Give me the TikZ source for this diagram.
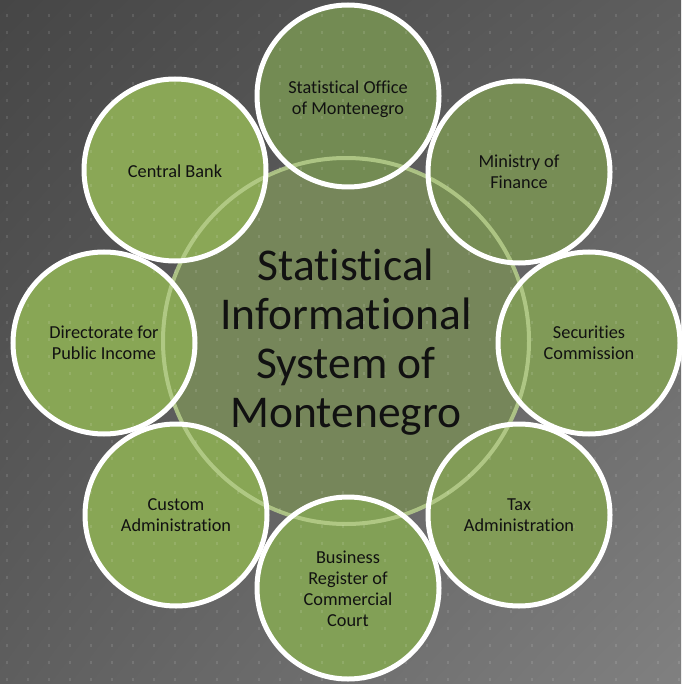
\documentclass[tikz,border=0pt]{standalone}
\usepackage{fontspec}
\setmainfont[Ligatures=NoCommon]{Carlito}
\usetikzlibrary{shadings}
\definecolor{bgA}{HTML}{464646}
\definecolor{bgB}{HTML}{5E5E5E}
\definecolor{bgC}{HTML}{5E5E5E}
\definecolor{bgD}{HTML}{808080}
\definecolor{cfill}{HTML}{76865A}
\definecolor{cborder}{HTML}{B7CE8C}
\definecolor{gA}{HTML}{8AA756}
\definecolor{gB}{HTML}{738B53}
\definecolor{gC}{HTML}{778D55}
\definecolor{gD}{HTML}{809A57}
\definecolor{gE}{HTML}{829C57}
\definecolor{gF}{HTML}{82A056}
\definecolor{gG}{HTML}{88A655}
\definecolor{gH}{HTML}{88A655}
\definecolor{txt}{HTML}{111111}
\begin{document}
\begin{tikzpicture}[x=1pt,y=-1pt,
  outer/.style={circle, minimum size=184pt, inner sep=0pt},
  ring/.style={draw=white, line width=5pt},
  lbl/.style={text=txt, align=center, font=\fontsize{18.3}{21}\selectfont},
  bigc/.style={circle, minimum size=366pt, inner sep=0pt, fill=cfill}]
\useasboundingbox (0,0) rectangle (681,684);
\shade[upper left=bgA, upper right=bgB, lower left=bgC, lower right=bgD] (0,0) rectangle (681,684);
\node[bigc] (c) at (346,341) {};
\node[outer, fill=gB] (so) at (348,96) {};
\node[outer, fill=gC] (mf) at (519,172) {};
\node[outer, fill=gD] (sc) at (589,343) {};
\node[outer, fill=gE] (ta) at (519,515) {};
\node[outer, fill=gF] (br) at (348,588) {};
\node[outer, fill=gG] (ca) at (176,515) {};
\node[outer, fill=gH] (dp) at (104,343) {};
\node[outer, fill=gA] (cb) at (175,170) {};
\draw[cborder, line width=4pt, opacity=0.85] (c.center) circle (183);
\foreach \n in {so,mf,sc,ta,br,ca,dp,cb} \draw[ring] (\n.center) circle (91);
\foreach \i in {0,...,32} \foreach \j in {0,...,39}
  \fill[white, opacity=0.11] (6+21*\i, 14.5+17*\j) rectangle ++(2,3);
\node[text=txt, align=center, font=\fontsize{45.5}{49}\selectfont] (ct) at ([yshift=-1pt]c.center) {Statistical\\Informational\\System of\\Montenegro};
\node[lbl] (sot) at ([yshift=-3pt]so.center) {Statistical Office\\of Montenegro};
\node[lbl] (mft) at (mf.center) {Ministry of\\Finance};
\node[lbl] (sct) at (sc.center) {Securities\\Commission};
\node[lbl] (tat) at (ta.center) {Tax\\Administration};
\node[lbl] (brt) at ([yshift=-1pt]br.center) {Business\\Register of\\Commercial\\Court};
\node[lbl] (cat) at (ca.center) {Custom\\Administration};
\node[lbl] (dpt) at (dp.center) {Directorate for\\Public Income};
\node[lbl] (cbt) at ([yshift=-1pt]cb.center) {Central Bank};
\end{tikzpicture}
\end{document}
